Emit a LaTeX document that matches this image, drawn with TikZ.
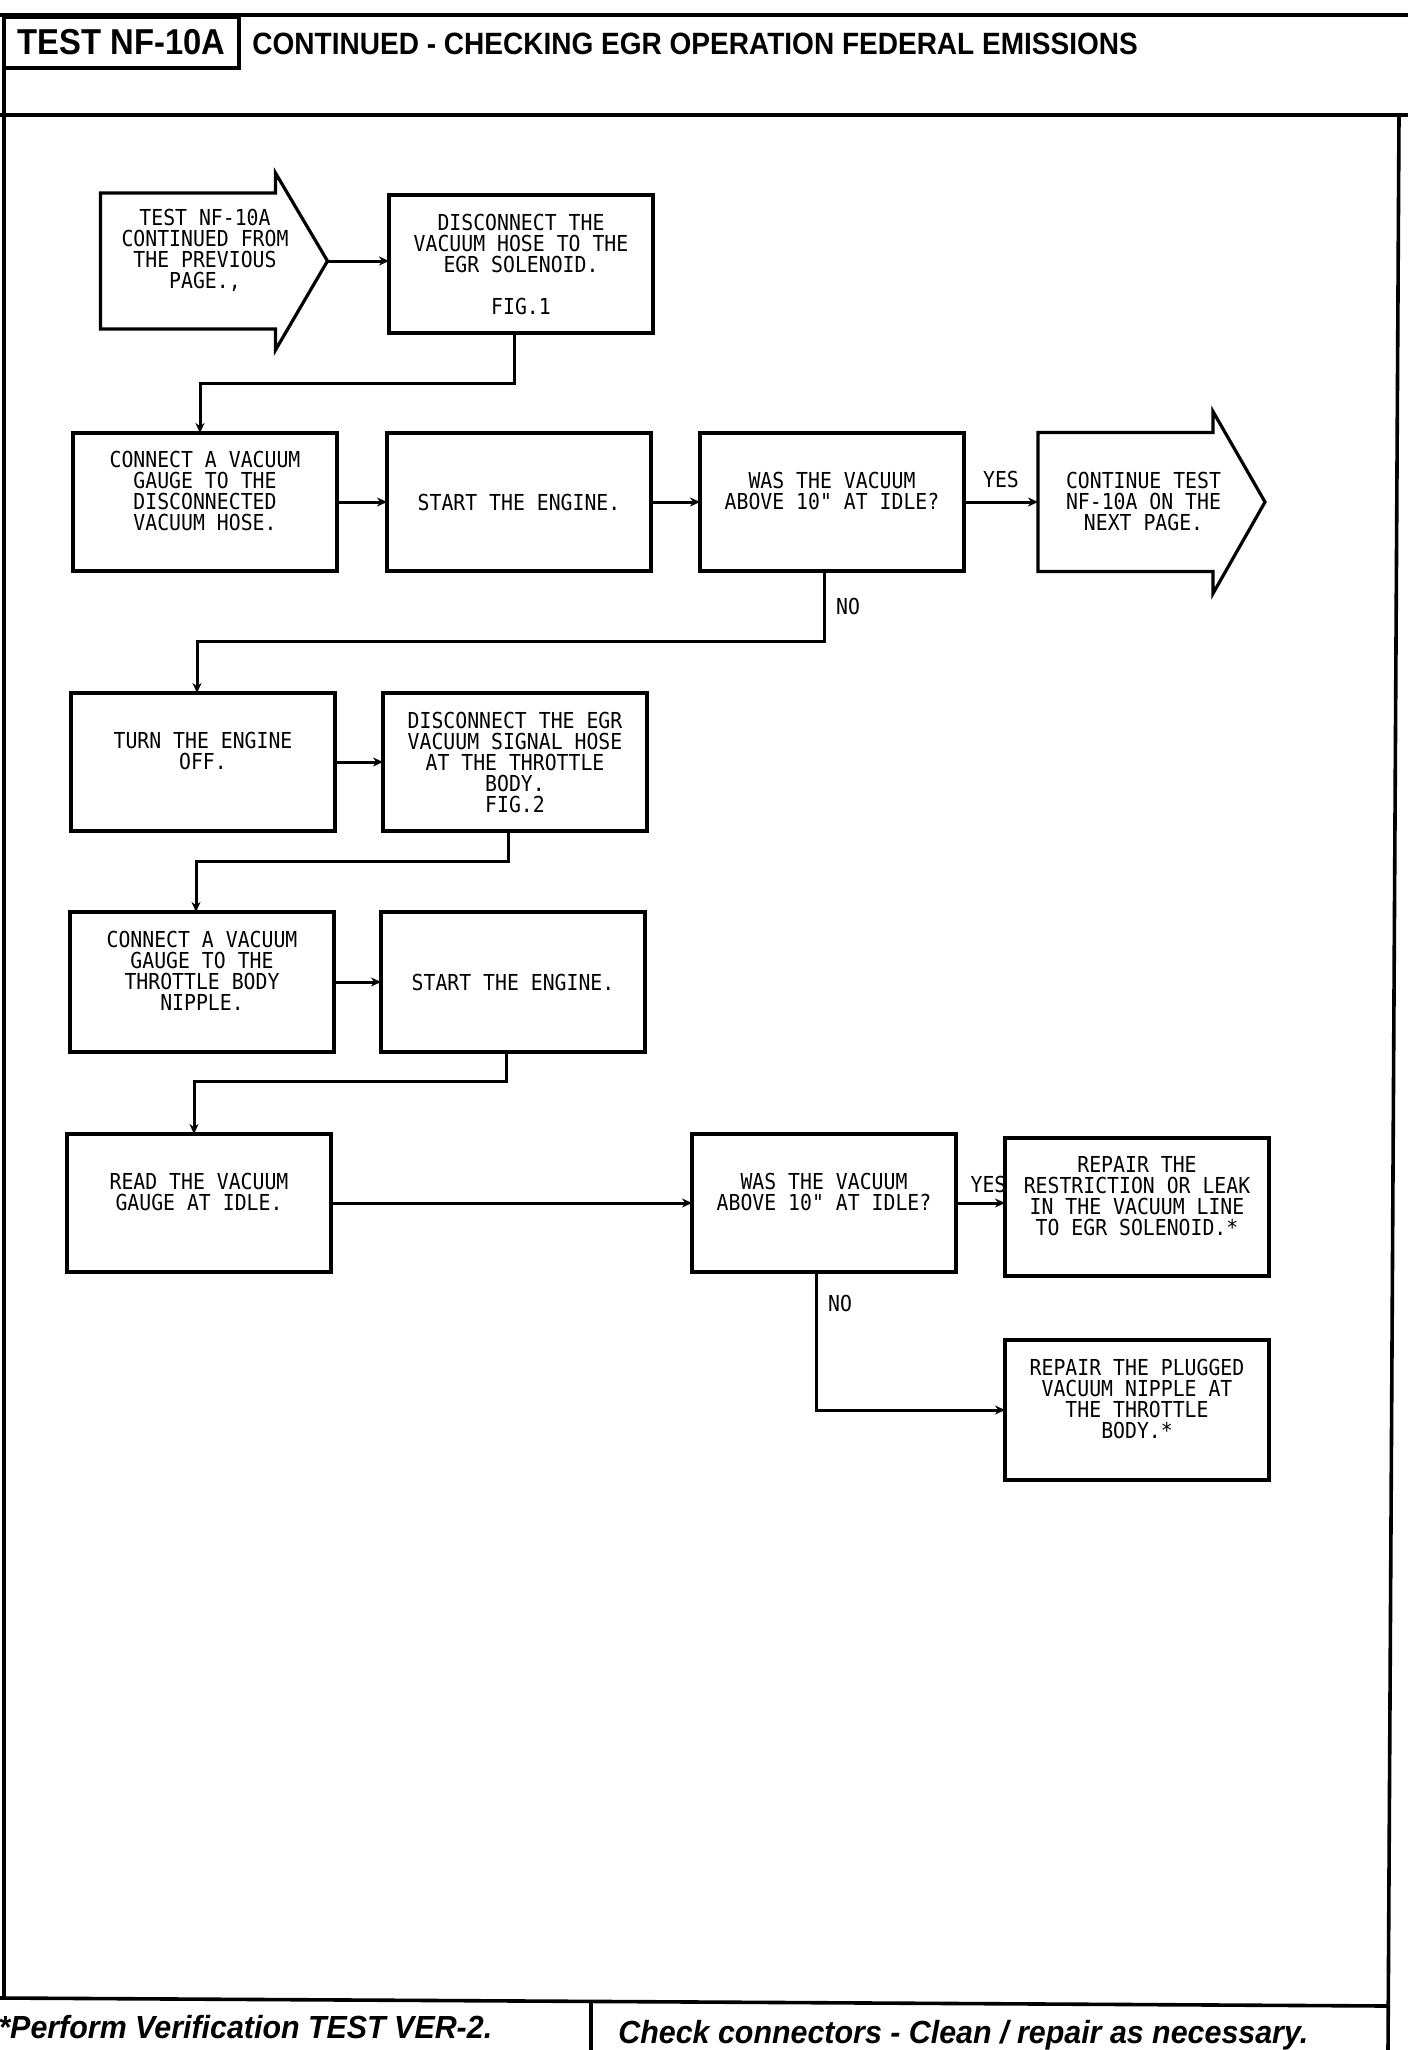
\documentclass[tikz,border=0pt]{standalone}
\usepackage{fontspec}
\usepackage{tikz}
\usetikzlibrary{arrows.meta,positioning,calc}
\newfontfamily\plotfont{DejaVu Sans Mono}[FakeStretch=0.9]
\newfontfamily\headfont{Liberation Sans}[FakeStretch=0.91]
\newfontfamily\footfont{Liberation Sans}[FakeStretch=0.95]

\begin{document}
\begin{tikzpicture}[x=0.5pt,y=-0.5pt,
  font=\plotfont\fontsize{11pt}{10.5pt}\selectfont, >={Stealth[length=5pt,width=4.5pt]},
  task/.style={draw,line width=1.6pt,outer sep=0pt,minimum width=132pt,minimum height=69pt,inner sep=2pt,align=center,text depth=11pt},
  mid/.style={text depth=0pt},
  body/.style={minimum width=87.5pt,minimum height=68pt,inner sep=0pt,outer sep=0pt},
  flow/.style={->,line width=1.5pt},
  rule/.style={line width=1.8pt}]
  \useasboundingbox (0,0) rectangle (1408,2050);
  % page frame
  \draw[rule] (0,15) -- (1408,15);
  \draw[rule] (0,115) -- (1408,115);
  \draw[rule] (4,15) -- (4,1998);
  \draw[rule] (1399,115) -- (1388,2050);
  \draw[rule] (0,1998) -- (1388,2006);
  \draw[rule] (591,2003) -- (591,2050);
  \node[draw,line width=1.6pt,minimum width=117.5pt,minimum height=25.5pt,inner sep=0pt,
    font=\headfont\bfseries\fontsize{18pt}{20pt}\selectfont] (tbox) at (121.5,42.5) {TEST NF-10A};
  \node[anchor=base west,inner sep=0pt,font=\headfont\bfseries\fontsize{15.4pt}{16pt}\selectfont] (ttl)
    at (252,55) {CONTINUED - CHECKING EGR OPERATION FEDERAL EMISSIONS};
  \node[anchor=base west,inner sep=0pt,font=\footfont\bfseries\itshape\fontsize{16pt}{18pt}\selectfont] (ver)
    at (-2,2038) {*Perform Verification TEST VER-2.};
  \node[anchor=base west,inner sep=0pt,font=\footfont\bfseries\itshape\fontsize{16pt}{18pt}\selectfont] (conn)
    at (618,2043) {Check connectors - Clean / repair as necessary.};

  % page connector in
  \node[body] (prev) at (188,261) {};
  \coordinate (prevtip) at ($(prev.east)+(52,0)$);
  \draw[line width=1.6pt] (prev.north west) -- (prev.north east) -- ++(0,-20) -- (prevtip)
    -- ($(prev.south east)+(0,21)$) -- (prev.south east) -- (prev.south west) -- cycle;
  \node[align=center] (prevtxt) at ($(prev.center)+(17,-11)$) {TEST NF-10A\\CONTINUED FROM\\THE PREVIOUS\\PAGE.,};
  \node[task,mid] (solen) at (521,264) {DISCONNECT THE\\VACUUM HOSE TO THE\\EGR SOLENOID.\\[10.5pt]FIG.1};

  % first vacuum check
  \node[task] (gauge1) at (205,502) {CONNECT A VACUUM\\GAUGE TO THE\\DISCONNECTED\\VACUUM HOSE.};
  \node[task,mid,right=25pt of gauge1] (start1) {START THE ENGINE.};
  \node[task,right=24.5pt of start1] (q1) {WAS THE VACUUM\\ABOVE 10" AT IDLE?};
  \node[body,minimum height=69.5pt,right=37pt of q1] (next) {};
  \coordinate (nexttip) at ($(next.east)+(52,0)$);
  \draw[line width=1.6pt] (next.north west) -- (next.north east) -- ++(0,-21) -- (nexttip)
    -- ($(next.south east)+(0,22)$) -- (next.south east) -- (next.south west) -- cycle;
  \node[align=center] (nexttxt) at ($(next.center)+(18,-1)$) {CONTINUE TEST\\NF-10A ON THE\\NEXT PAGE.};

  % throttle body check
  \node[task] (off) at (203,762) {TURN THE ENGINE\\OFF.};
  \node[task,mid,right=24pt of off] (sighose) {DISCONNECT THE EGR\\VACUUM SIGNAL HOSE\\AT THE THROTTLE\\BODY.\\FIG.2};
  \node[task,minimum height=70pt] (gauge2) at (202,982) {CONNECT A VACUUM\\GAUGE TO THE\\THROTTLE BODY\\NIPPLE.};
  \node[task,mid,minimum height=70pt,right=23.5pt of gauge2] (start2) {START THE ENGINE.};
  \node[task] (read) at (199,1203) {READ THE VACUUM\\GAUGE AT IDLE.};
  \node[task,right=180.5pt of read] (q2) {WAS THE VACUUM\\ABOVE 10" AT IDLE?};
  \node[task,right=24.5pt of q2,yshift=-2pt] (leak) {REPAIR THE\\RESTRICTION OR LEAK\\IN THE VACUUM LINE\\TO EGR SOLENOID.*};
  \node[task,minimum height=70pt,below=32pt of leak] (plug) {REPAIR THE PLUGGED\\VACUUM NIPPLE AT\\THE THROTTLE\\BODY.*};

  % connectors
  \draw[flow] (prevtip) -- (prevtip -| solen.west);
  \draw[flow] ([xshift=-3.5pt]solen.south) -- ++(0,50) -| ([xshift=-2.5pt]gauge1.north);
  \draw[flow] (gauge1.east) -- (gauge1.east -| start1.west);
  \draw[flow] (start1.east) -- (start1.east -| q1.west);
  \draw[flow] (q1.east) -- node[above=3pt] (yes1) {YES} (q1.east -| next.west);
  \draw[flow] ([xshift=-4pt]q1.south) -- node[right=2pt] (no1) {NO} ++(0,70) -| ([xshift=-3pt]off.north);
  \draw[flow] (off.east) -- (off.east -| sighose.west);
  \draw[flow] ([xshift=-3.5pt]sighose.south) -- ++(0,30) -| ([xshift=-3pt]gauge2.north);
  \draw[flow] (gauge2.east) -- (gauge2.east -| start2.west);
  \draw[flow] ([xshift=-3.5pt]start2.south) -- ++(0,29) -| ([xshift=-2.5pt]read.north);
  \draw[flow] (read.east) -- (read.east -| q2.west);
  \draw[flow] (q2.east) -- node[above=1pt,xshift=4pt] (yes2) {YES} (q2.east -| leak.west);
  \draw[flow] ([xshift=-4pt]q2.south) -- node[right=2pt,pos=0.23] (no2) {NO} ([xshift=-4pt]q2.south |- plug.west) -- (plug.west);
\end{tikzpicture}
\end{document}
